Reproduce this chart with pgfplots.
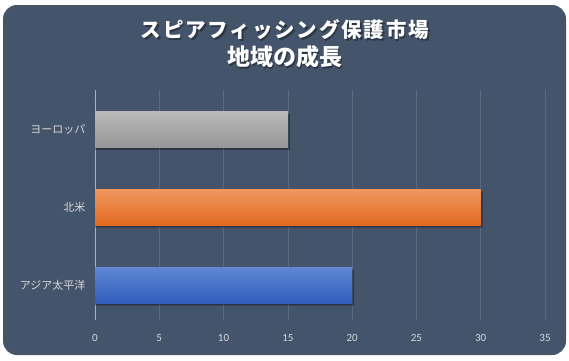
\documentclass[border=0pt]{standalone}
\usepackage{fontspec}
\setmainfont{Carlito}
\newfontfamily\cjk{Noto Sans CJK JP}
\newfontfamily\cjkspaced[LetterSpace=9]{Noto Sans CJK JP}
\usepackage{pgfplots}
\pgfplotsset{compat=1.18}
\definecolor{bg}{HTML}{44546A}
\definecolor{gridc}{HTML}{5B6A7D}
\definecolor{tickc}{HTML}{D9D9D9}
\definecolor{bluet}{RGB}{95,135,212}
\definecolor{blueb}{RGB}{48,92,188}
\definecolor{oranget}{RGB}{240,150,95}
\definecolor{orangeb}{RGB}{225,105,30}
\definecolor{grayt}{RGB}{185,185,185}
\definecolor{grayb}{RGB}{150,150,150}
\begin{document}
\begin{tikzpicture}[x=1pt,y=1pt]
\fill[white] (0,0) rectangle (569,360);
\fill[bg, rounded corners=14pt] (3,5) rectangle (566,355);
\node[black, opacity=0.35, font=\cjkspaced\bfseries\fontsize{20.5}{24}\selectfont, anchor=center] at (286.5,328.5) {スピアフィッシング保護市場};
\node[white, font=\cjkspaced\bfseries\fontsize{20.5}{24}\selectfont, anchor=center] at (285,330) {スピアフィッシング保護市場};
\node[black, opacity=0.35, font=\cjk\bfseries\fontsize{23}{26}\selectfont, anchor=center] at (286,301.5) {地域の成長};
\node[white, font=\cjk\bfseries\fontsize{23}{26}\selectfont, anchor=center] at (284.5,303) {地域の成長};
\begin{axis}[
  at={(95pt,40pt)}, anchor=south west,
  scale only axis, width=450pt, height=230pt,
  xmin=0, xmax=35, ymin=-0.44, ymax=2.51,
  xtick={0,5,...,35},
  ytick={0,1,2},
  yticklabels={アジア太平洋,北米,ヨーロッパ},
  yticklabel style={font=\cjk\fontsize{11}{13}\selectfont, text=tickc, xshift=-6pt},
  xticklabel style={font=\fontsize{11}{13}\selectfont, text=tickc, yshift=-11pt},
  /pgf/number format/assume math mode=true,
  xmajorgrids, grid style={gridc, line width=0.6pt},
  axis line style={draw=none},
  axis x line*=bottom, axis y line*=left,
  major tick length=0pt,
  xbar, bar width=36pt,
  clip=false,
]
\draw[gray!60!white, line width=0.8pt] (axis cs:0,-0.44) -- (axis cs:0,2.51);
% shadows
\addplot[draw=none, fill=black, fill opacity=0.35, bar shift=-2pt] coordinates {(20.15,0) (30.15,1) (15.15,2)};
\addplot[draw=none, top color=bluet, bottom color=blueb, bar shift=0pt] coordinates {(20,0)};
\addplot[draw=none, top color=oranget, bottom color=orangeb, bar shift=0pt] coordinates {(30,1)};
\addplot[draw=none, top color=grayt, bottom color=grayb, bar shift=0pt] coordinates {(15,2)};
\end{axis}
\end{tikzpicture}
\end{document}
